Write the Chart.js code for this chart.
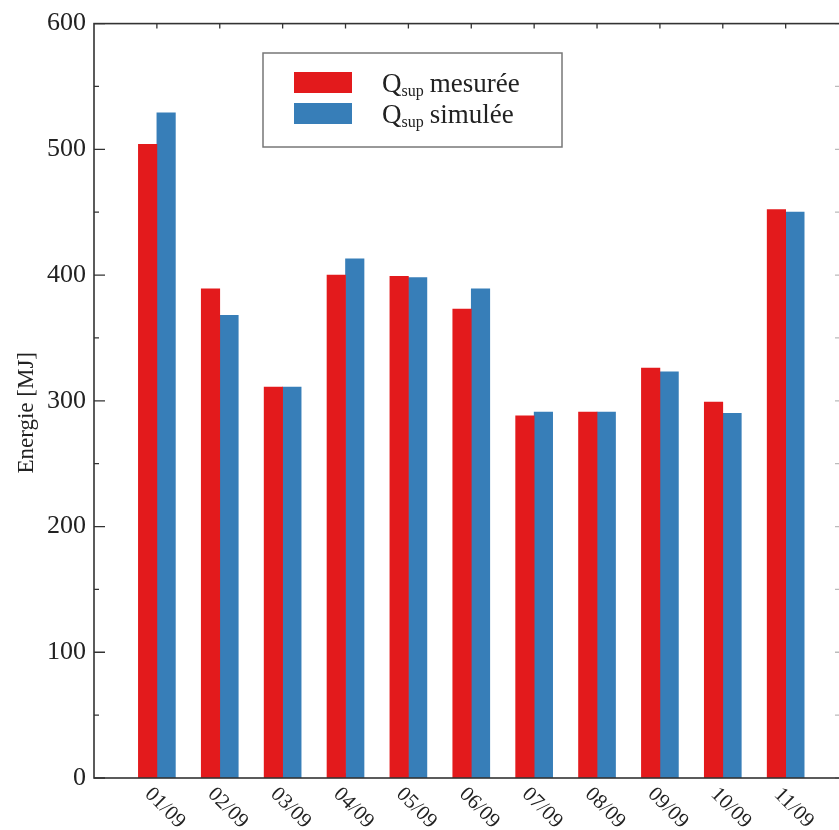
<!DOCTYPE html>
<html>
  <head>
    <script src="https://cdn.jsdelivr.net/npm/chart.js@4"></script>
    <style>
      html, body { margin: 0; padding: 0; overflow: hidden; background: #fff; }
      #wrap { position: absolute; left: 0; top: 0; width: 846px; height: 830px; }
    </style>
  </head>
  <body>
    <div id="wrap"><canvas id="canvas"></canvas></div>
    <script>
      const dates = ['01/09', '02/09', '03/09', '04/09', '05/09', '06/09', '07/09', '08/09', '09/09', '10/09', '11/09'];
      const measured = [504, 389, 311, 400, 399, 373, 288, 291, 326, 299, 452];
      const simulated = [529, 368, 311, 413, 398, 389, 291, 291, 323, 290, 450];
      const seriesNames = ['mesurée', 'simulée'];
      const yTicks = [0, 100, 200, 300, 400, 500, 600];

      const RED = '#e31a1c';
      const BLUE = '#377eb8';
      const AXIS = '#333333';
      const SERIF = '"Liberation Serif", "Times New Roman", serif';

      // frame + inward ticks
      const frame = {
        id: 'frame',
        beforeDatasetsDraw(chart) {
          const { ctx, chartArea: a, scales } = chart;
          ctx.save();
          ctx.lineWidth = 1.3;
          ctx.strokeStyle = AXIS;
          ctx.beginPath();
          for (let v = 0; v <= 600; v += 50) {
            const y = scales.y.getPixelForValue(v);
            const len = v % 100 === 0 ? 11 : 5;
            ctx.moveTo(a.left, y); ctx.lineTo(a.left + len, y);
          }
          dates.forEach((d, i) => {
            const x = scales.x.getPixelForValue(i + 1);
            ctx.moveTo(x, a.top); ctx.lineTo(x, a.top + 5);
            ctx.moveTo(x, a.bottom); ctx.lineTo(x, a.bottom - 5);
          });
          ctx.stroke();
          // right axis is mostly cut off, its ticks only show faintly
          ctx.strokeStyle = '#bbbbbb';
          ctx.beginPath();
          for (let v = 0; v <= 600; v += 50) {
            const y = scales.y.getPixelForValue(v);
            ctx.moveTo(a.right, y); ctx.lineTo(a.right - 6, y);
          }
          ctx.stroke();
          ctx.restore();
        },
        afterDatasetsDraw(chart) {
          const { ctx, chartArea: a, scales } = chart;
          ctx.save();
          ctx.strokeStyle = AXIS;
          ctx.lineWidth = 1.6;
          ctx.strokeRect(a.left, a.top, a.right - a.left, a.bottom - a.top);

          // rotated date labels
          ctx.fillStyle = '#222';
          ctx.font = '21px ' + SERIF;
          ctx.textAlign = 'center';
          ctx.textBaseline = 'middle';
          dates.forEach((d, i) => {
            const x = scales.x.getPixelForValue(i + 1);
            ctx.save();
            ctx.translate(x + 8, a.bottom + 30);
            ctx.rotate(Math.PI / 4);
            ctx.fillText(d, 0, 0);
            ctx.restore();
          });

          // y title
          ctx.save();
          ctx.translate(27, (a.top + a.bottom) / 2 + 12);
          ctx.rotate(-Math.PI / 2);
          ctx.font = '23px ' + SERIF;
          ctx.fillText('Energie [MJ]', 0, 0);
          ctx.restore();

          // legend box
          ctx.lineWidth = 1.5;
          ctx.strokeStyle = '#777';
          ctx.strokeRect(263, 53, 299, 94);
          const rows = [[RED, 72], [BLUE, 103]];
          chart.data.datasets.forEach((ds, i) => {
            const top = rows[i][1];
            ctx.fillStyle = ds.backgroundColor;
            ctx.fillRect(294, top, 58, 21);
            const base = top + 20;
            ctx.fillStyle = '#222';
            ctx.textAlign = 'left';
            ctx.textBaseline = 'alphabetic';
            ctx.font = '27px ' + SERIF;
            ctx.fillText('Q', 382, base);
            let x = 382 + ctx.measureText('Q').width;
            ctx.font = '16px ' + SERIF;
            ctx.fillText('sup', x, base + 4);
            x += ctx.measureText('sup').width + 6;
            ctx.font = '27px ' + SERIF;
            ctx.fillText(seriesNames[i], x, base);
          });
          ctx.restore();
        }
      };

      new Chart(document.getElementById('canvas'), {
        type: 'bar',
        data: {
          datasets: [
            {
              label: 'Qsup ' + seriesNames[0],
              data: measured.map((v, i) => ({ x: i + 1, y: v })),
              backgroundColor: RED,
              barThickness: 18.5,
            },
            {
              label: 'Qsup ' + seriesNames[1],
              data: simulated.map((v, i) => ({ x: i + 1, y: v })),
              backgroundColor: BLUE,
              barThickness: 18.5,
            },
          ],
        },
        options: {
          responsive: true,
          maintainAspectRatio: false,
          animation: false,
          layout: { padding: { top: 22, left: 0, right: 5, bottom: 0 } },
          plugins: { legend: { display: false }, tooltip: { enabled: false } },
          scales: {
            x: {
              type: 'linear',
              offset: false,
              min: 0,
              max: 11.88,
              grid: { display: false, drawTicks: false, offset: false },
              border: { display: false },
              ticks: { display: false },
              afterFit: (s) => { s.height = 52; },
            },
            y: {
              min: 0,
              max: 600,
              afterBuildTicks: (s) => { s.ticks = yTicks.map((v) => ({ value: v })); },
              grid: { display: false, drawTicks: false },
              border: { display: false },
              ticks: {
                padding: 8,
                color: '#222',
                font: { family: SERIF, size: 26 },
              },
              afterFit: (s) => { s.width = 94; },
            },
          },
        },
        plugins: [frame],
      });
    </script>
  </body>
</html>
